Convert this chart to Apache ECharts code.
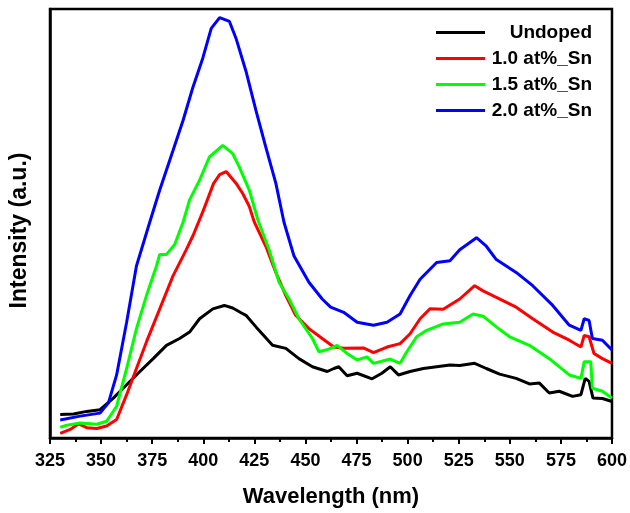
<!DOCTYPE html>
<html>
<head>
<meta charset="utf-8">
<script src="https://cdn.jsdelivr.net/npm/echarts@6/dist/echarts.min.js"></script>
<style>
html,body{margin:0;padding:0;background:#fff;}
#chart{width:630px;height:513px;}
</style>
</head>
<body>
<div id="chart"></div>
<script>
// Wavelength (nm) / intensity (a.u.) pairs
const seriesNames = ['Undoped', '1.0 at%_Sn', '1.5 at%_Sn', '2.0 at%_Sn'];
const xTicks = [325, 350, 375, 400, 425, 450, 475, 500, 525, 550, 575, 600];

const undoped = [
  [330,5.5],[336.5,5.6],[343,6.2],[349.5,6.6],[356,9.3],[362.5,12.4],[369,15.5],[375.5,18.5],
  [382,21.6],[388.4,23.2],[393.3,24.7],[398.2,27.8],[404.7,30.1],[410.3,30.9],[414.4,30.3],
  [418.5,29.2],[420.9,28.6],[425.8,25.9],[433.9,21.6],[440.4,20.9],[446.8,18.5],[453.4,16.6],
  [460.7,15.5],[463.9,16.2],[466.3,16.6],[470.4,14.5],[475.3,15.1],[482.6,13.8],[487.4,15.1],
  [491.5,16.6],[495.5,14.7],[501.2,15.5],[507.7,16.2],[514.2,16.6],[520.7,17.0],[525.5,16.9],
  [532.8,17.4],[538.5,16.2],[545,14.9],[553.1,13.9],[559.6,12.6],[564.5,12.8],[569.3,10.5],
  [574.2,10.9],[580.7,9.7],[584.8,10.1],[586.9,13.9],[588.8,13.2],[590.7,9.3],[595.3,9.2],[600,8.5]
];

const sn10 = [
  [330,1.1],[334.9,2.0],[339,3.3],[343,2.4],[347.9,2.2],[352.7,2.8],[357.6,4.3],[362.5,10.1],
  [367.3,16.2],[372.2,22.4],[378.7,30.1],[385.2,37.8],[391.7,43.9],[395,47.2],[400,53.0],
  [405,59.3],[408,61.4],[411.2,62.1],[416,59.4],[419.3,57.0],[422.5,54.0],[425,50.3],
  [430.6,44.7],[435.5,38.6],[440.4,33.2],[445.2,28.6],[451.7,25.5],[458.2,23.2],[463.9,21.2],
  [468.7,20.9],[478.4,21.0],[483.3,19.9],[489.9,21.2],[496.3,22.0],[501.2,24.3],[506.1,27.8],
  [510.9,30.1],[517.4,30.0],[525.5,32.4],[532.8,35.5],[536.9,34.3],[543.4,32.8],[553.1,30.5],
  [561.2,27.8],[571,24.7],[579.1,22.8],[584.8,21.2],[586.4,23.9],[588.8,23.6],[591.2,19.7],
  [595.3,18.5],[600,17.4]
];

const sn15 = [
  [330,2.5],[333.3,3.0],[339.7,3.5],[347.9,3.2],[352.7,3.9],[357.6,7.4],[362.5,16.2],[367.3,25.5],
  [372.2,33.2],[377.1,40.1],[378.7,42.8],[382,42.8],[386,45.1],[390.1,50.3],[393.3,55.5],
  [398.2,60.1],[403,65.5],[409.5,68.2],[414.4,66.3],[417.6,63.2],[422.5,57.8],[426.8,50.7],
  [432.2,43.9],[437.1,36.3],[442,32.4],[446.8,27.8],[453.4,23.2],[456.6,20.1],[459.8,20.5],
  [462.3,20.9],[465.5,21.6],[470.4,19.7],[475.3,18.2],[480.1,18.9],[483.3,17.4],[491.5,18.4],
  [496.3,17.4],[499.6,20.1],[504.4,23.6],[509.3,25.1],[517.4,26.6],[525.5,27.0],[532,28.9],
  [536.9,28.4],[543.4,25.9],[549.9,23.6],[559.6,21.6],[569.3,18.5],[579.1,14.7],[584.8,13.9],
  [586.4,17.8],[589.6,17.8],[590.4,11.6],[595.3,10.9],[600,9.3]
];

const sn20 = [
  [330,4.2],[339.7,5.1],[349.5,5.8],[353.6,8.2],[357.6,14.7],[362.5,27.0],[367.3,40.1],
  [373.8,50.3],[378.7,57.8],[385.2,67.0],[390.1,74.0],[394.9,81.7],[399.8,88.6],[403.9,95.5],
  [408,98.0],[412.8,97.1],[416,93.2],[420.9,85.5],[425.8,76.3],[430.6,67.8],[435.5,59.4],
  [439.5,50.3],[444.4,42.4],[451.7,36.3],[458.2,32.4],[462.3,30.5],[468.7,29.3],[475.3,27.0],
  [483.3,26.3],[489.9,27.0],[496.3,28.9],[501.2,33.2],[506.1,37.0],[514.2,40.9],[520.7,41.3],
  [525.5,43.9],[533.7,46.7],[538.5,44.7],[543.4,41.6],[553.1,38.6],[561.2,35.5],[571,30.9],
  [579.1,26.3],[584.8,25.1],[586.4,27.8],[588.8,27.4],[590.4,23.2],[595.3,22.8],[600,20.5]
];

const seriesData = [undoped, sn10, sn15, sn20];
const seriesColors = ['#000000', '#ff0000', '#00ff00', '#0000ff'];

const FONT = '"Liberation Sans", Arial, Helvetica, sans-serif';
const chart = echarts.init(document.getElementById('chart'), null, {renderer: 'canvas'});

chart.setOption({
  animation: false,
  backgroundColor: '#ffffff',
  grid: {left: 48, right: 17, top: 9, bottom: 71, show: true, borderColor: '#000', borderWidth: 2.5, containLabel: false},
  legend: {
    orient: 'vertical',
    left: 431,
    top: 18,
    icon: 'rect',
    itemWidth: 49,
    itemHeight: 3,
    itemGap: 7,
    data: seriesNames,
    formatter: function (n) { return '{r|' + n + '}'; },
    textStyle: {
      color: '#000', fontFamily: FONT, fontWeight: 'bold', fontSize: 19,
      rich: {r: {width: 102, align: 'right', color: '#000', fontFamily: FONT, fontWeight: 'bold', fontSize: 19}}
    }
  },
  xAxis: {
    type: 'value',
    min: xTicks[0],
    max: xTicks[xTicks.length - 1],
    interval: 25,
    name: 'Wavelength (nm)',
    nameLocation: 'middle',
    nameGap: 48,
    nameTextStyle: {color: '#000', fontFamily: FONT, fontWeight: 'bold', fontSize: 22},
    axisLine: {show: true, onZero: false, lineStyle: {color: '#000', width: 2.5}},
    axisTick: {show: true, inside: false, length: 6, lineStyle: {color: '#000', width: 2}},
    minorTick: {show: true, splitNumber: 2, length: 4, lineStyle: {color: '#000', width: 2}},
    splitLine: {show: false},
    minorSplitLine: {show: false},
    axisLabel: {color: '#000', fontFamily: FONT, fontWeight: 'bold', fontSize: 18, margin: 14}
  },
  yAxis: {
    type: 'value',
    min: 0,
    max: 100,
    name: 'Intensity (a.u.)',
    nameLocation: 'middle',
    nameGap: 19,
    nameTextStyle: {color: '#000', fontFamily: FONT, fontWeight: 'bold', fontSize: 23, padding: [0, 14, 0, 0]},
    axisLine: {show: true, lineStyle: {color: '#000', width: 2.5}},
    axisTick: {show: false},
    axisLabel: {show: false},
    splitLine: {show: false}
  },
  series: seriesNames.map(function (name, i) {
    return {
      name: name,
      type: 'line',
      data: seriesData[i],
      symbol: 'none',
      showSymbol: false,
      smooth: false,
      color: seriesColors[i],
      lineStyle: {color: seriesColors[i], width: 3},
      itemStyle: {color: seriesColors[i]},
      z: 2 + i
    };
  })
});
</script>
</body>
</html>
